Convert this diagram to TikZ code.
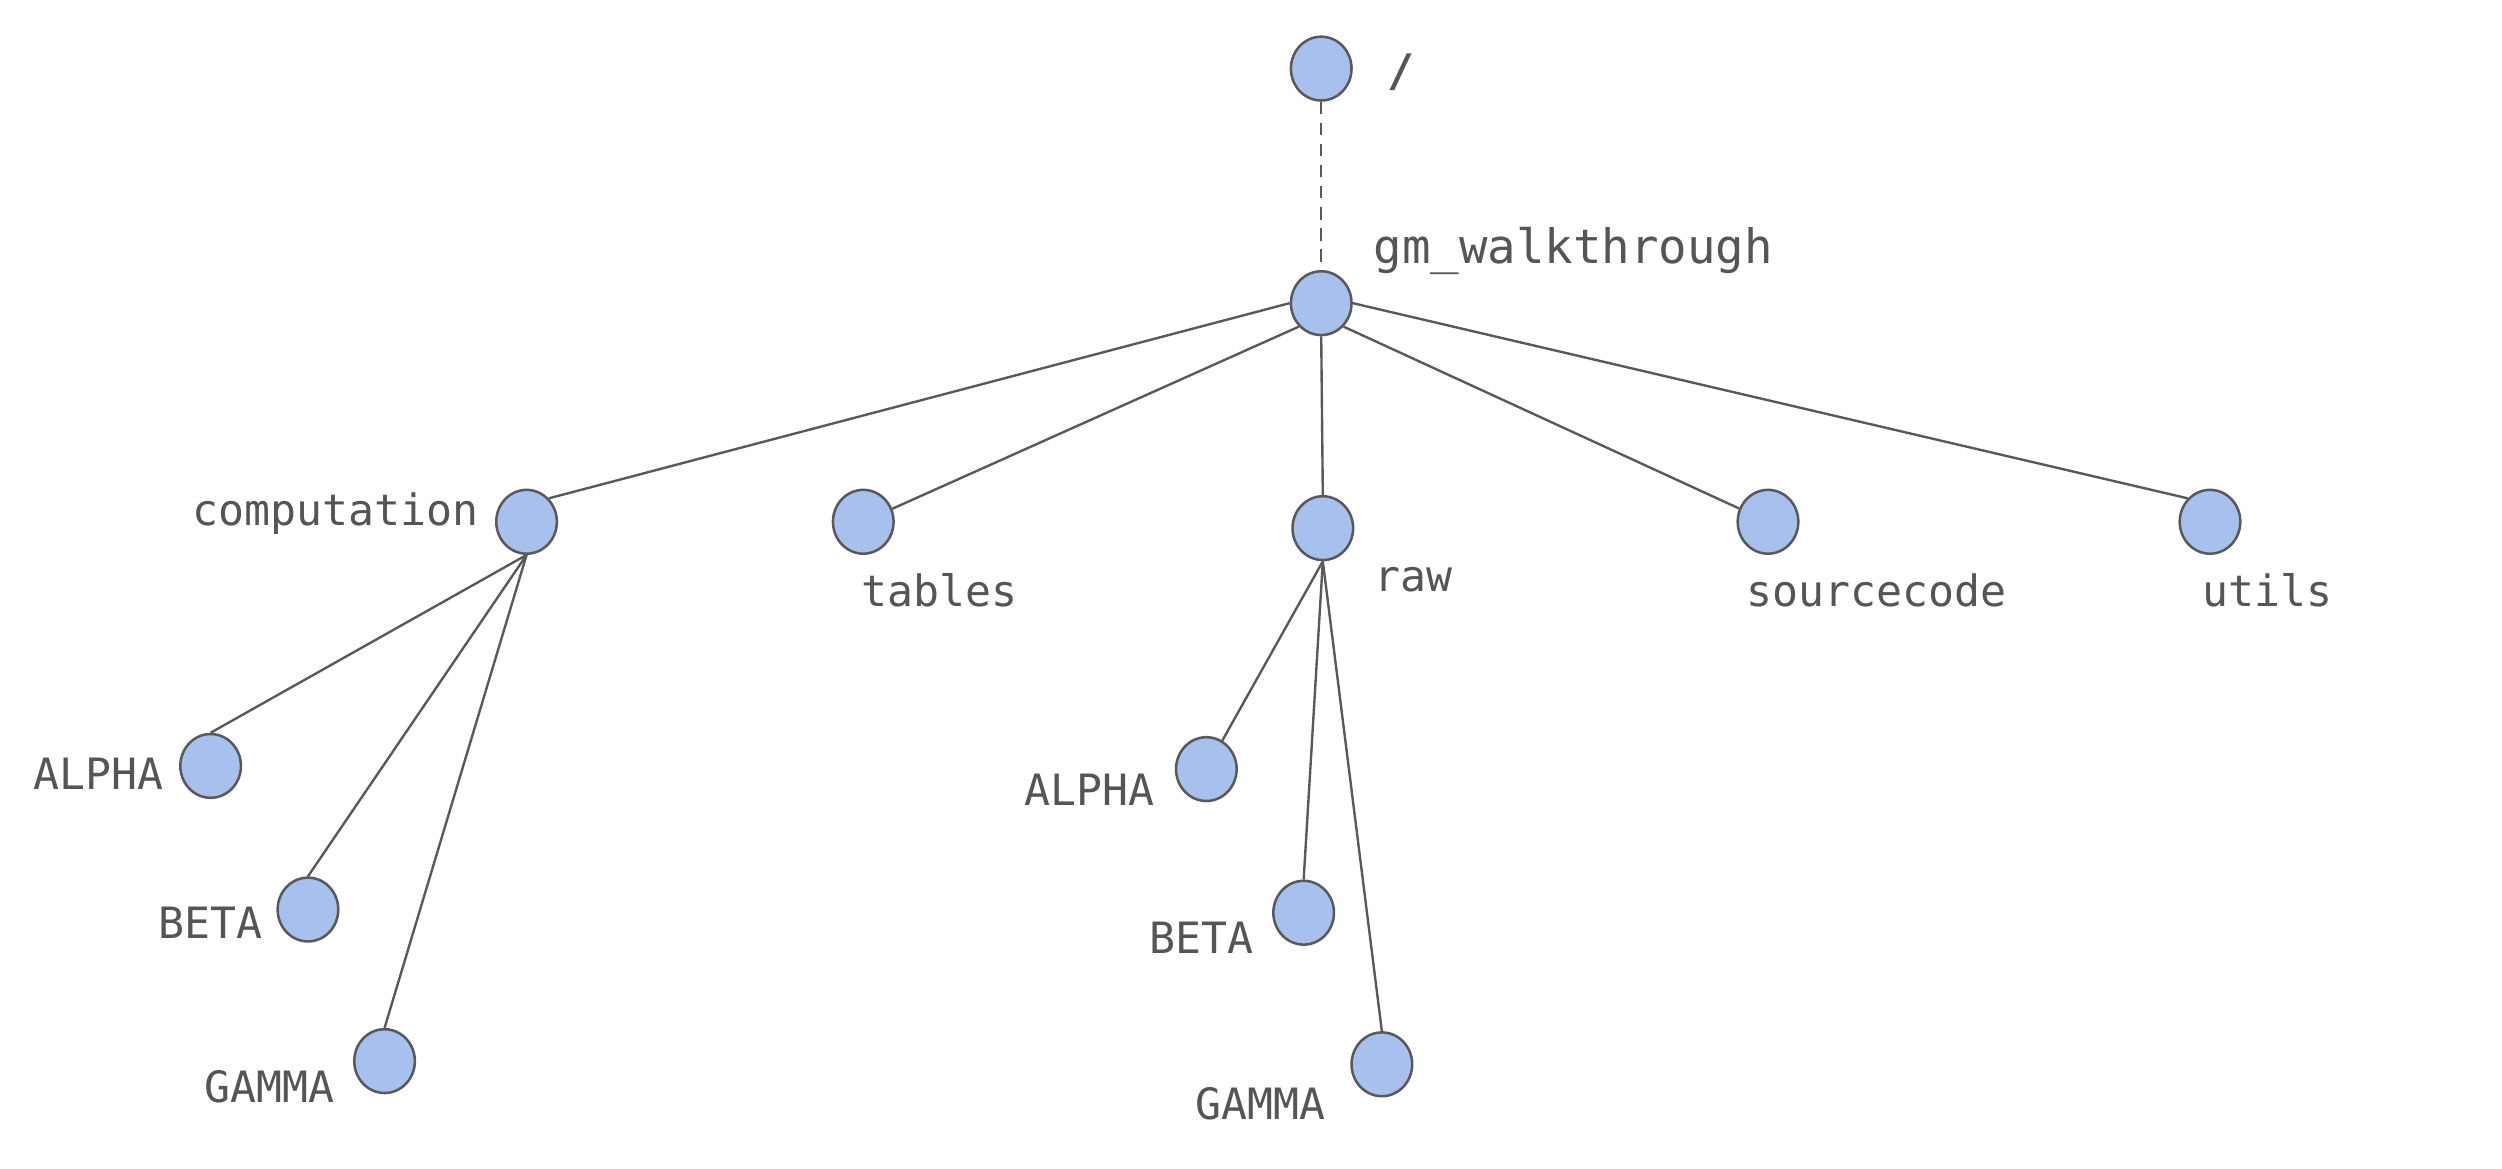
\documentclass[tikz,border=0pt]{standalone}
\usepackage{xcolor}
\usepackage{fontspec}
\setmonofont{DejaVu Sans Mono}
\usepackage{tikz}
\usetikzlibrary{shapes.geometric, positioning}

\definecolor{dirfill}{HTML}{A8C0EE}
\definecolor{dirline}{HTML}{595959}
\definecolor{dirtext}{HTML}{555555}

\begin{document}
\begin{tikzpicture}[
  x=0.02cm,
  y=-0.02cm,
  dir/.style={
    draw=dirline,
    fill=dirfill,
    ellipse,
    line width=0.9pt,
    minimum width=0.76cm,
    minimum height=0.8cm,
    inner sep=0pt
  },
  dirlabel/.style={
    text=dirtext,
    font=\ttfamily\fontsize{15.4}{18}\selectfont,
    inner sep=0pt,
    anchor=center
  },
  link/.style={draw=dirline,line width=0.85pt},
  up/.style={link,dash pattern=on 4.5pt off 3pt}
]
\useasboundingbox (0,0) rectangle (1568,732);

% folders
\node[dir] (root) at (828,43) {};
\node[dir] (gm) at (828,190) {};
\node[dir] (comp) at (330,327) {};
\node[dir] (tables) at (541,327) {};
\node[dir] (raw) at (829,331) {};
\node[dir] (src) at (1108,327) {};
\node[dir] (utils) at (1385,327) {};

\node[dir] (calpha) at (132,480) {};
\node[dir] (cbeta) at (193,570) {};
\node[dir] (cgamma) at (241,665) {};

\node[dir] (ralpha) at (756,482) {};
\node[dir] (rbeta) at (817,572) {};
\node[dir] (rgamma) at (866,667) {};

% labels
\node[dirlabel,font=\ttfamily\bfseries\fontsize{16}{18}\selectfont] (rootlbl) at (878,45) {/};
\node[dirlabel,font=\ttfamily\fontsize{16.9}{20}\selectfont] (gmlbl) at (986,157) {gm\_walkthrough};
\node[dirlabel] (complbl) at (210,322) {computation};
\node[dirlabel] (tableslbl) at (589,370) {tables};
\node[dirlabel] (rawlbl) at (886,363) {raw};
\node[dirlabel] (srclbl) at (1176,370) {sourcecode};
\node[dirlabel] (utilslbl) at (1421,370) {utils};
\node[dirlabel] (calphalbl) at (62,485) {ALPHA};
\node[dirlabel] (cbetalbl) at (132,578) {BETA};
\node[dirlabel] (cgammalbl) at (169,681) {GAMMA};
\node[dirlabel] (ralphalbl) at (683,495) {ALPHA};
\node[dirlabel] (rbetalbl) at (753,588) {BETA};
\node[dirlabel] (rgammalbl) at (790,692) {GAMMA};

% edges
\draw[up] (root) -- (gm);
\draw[link] (gm.west) -- (comp.north east);
\draw[link] (gm.south west) -- (tables);
\draw[link] (gm.south) -- (raw.north);
\draw[link] (gm.south east) -- (src);
\draw[link] (gm.east) -- (utils.north west);

\draw[link] (comp.south) -- (calpha.north);
\draw[link] (comp.south) -- (cbeta.north);
\draw[link] (comp.south) -- (cgamma.north);

\draw[link] (raw.south) -- (ralpha);
\draw[link] (raw.south) -- (rbeta.north);
\draw[link] (raw.south) -- (rgamma.north);

\end{tikzpicture}
\end{document}
